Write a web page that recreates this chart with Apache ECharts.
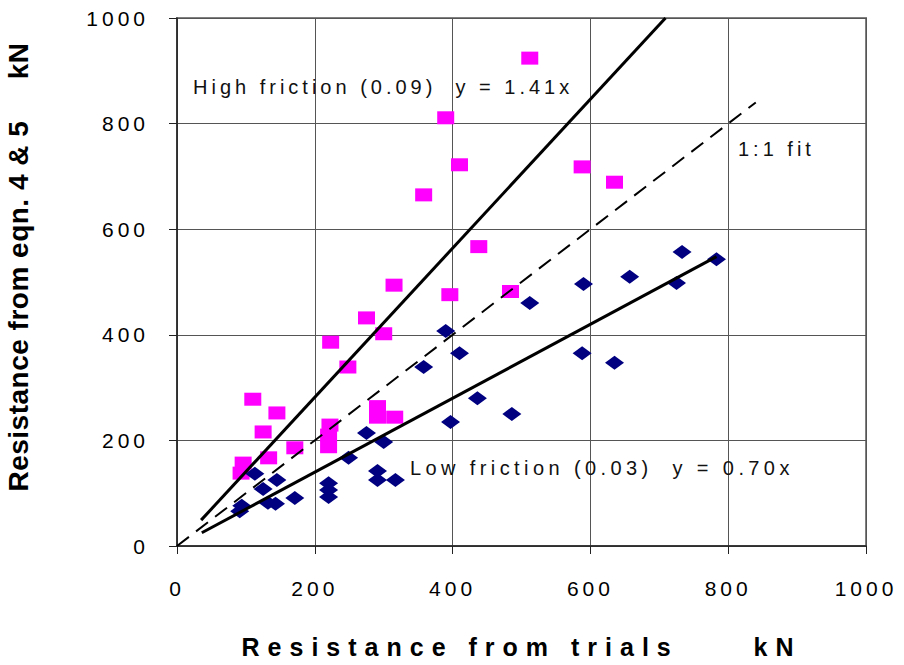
<!DOCTYPE html>
<html>
<head>
<meta charset="utf-8">
<script src="https://cdn.jsdelivr.net/npm/echarts@6/dist/echarts.min.js"></script>
<style>
  html, body { margin: 0; padding: 0; background: #fff; }
  #chart { width: 904px; height: 665px; }
  /* the original chart uses wide letter spacing on almost all text */
  #chart text { letter-spacing: 4px; }
</style>
</head>
<body>
<div id="chart"></div>
<script>
// high friction (0.09) points - resistance from trials / from eqn
const highX = [512, 390, 410, 358, 588, 635, 438, 315, 396, 484, 275, 300, 223, 248,
  110, 145, 125, 171, 133, 96, 93, 222, 220, 220, 291, 291, 316]
const highY = [924, 811, 722, 665, 718, 689, 567, 494, 476, 482, 432, 402, 386, 339,
  278, 252, 216, 186, 167, 157, 138, 229, 210, 188, 264, 244, 244]

// low friction (0.03) points
const lowX = [733, 783, 657, 590, 725, 512, 390, 410, 358, 588, 635, 436, 486, 397, 275,
  300, 249, 291, 291, 317, 113, 145, 125, 132, 143, 171, 94, 91, 220, 220, 220]
const lowY = [557, 543, 510, 496, 498, 460, 407, 365, 339, 365, 347, 280, 250, 235, 214,
  197, 167, 142, 125, 125, 137, 125, 108, 82, 80, 91, 76, 66, 119, 106, 93]

// fitted lines (end points)
const highFit = [[35, 49], [709, 1000]]
const lowFit = [[36, 25], [783, 548]]
const oneToOne = [[0, 0], [840, 840]]

const axisTicks = [0, 200, 400, 600, 800, 1000]

const font = "'Liberation Sans', Arial, sans-serif"

const zip = (xs, ys) => xs.map((x, i) => [x, ys[i]])

const chartDom = document.getElementById('chart')
const chart = echarts.init(chartDom, null, { renderer: 'svg' })

const option = {
  animation: false,
  backgroundColor: '#fff',
  grid: {
    left: 177, right: 38, top: 18, bottom: 119,
    containLabel: false, outerBoundsMode: 'none',
    show: true, borderColor: '#808080', borderWidth: 2
  },
  xAxis: {
    type: 'value',
    min: axisTicks[0],
    max: axisTicks[axisTicks.length - 1],
    interval: 200,
    name: 'Resistance from trials     kN',
    nameLocation: 'middle',
    nameGap: 88,
    nameTextStyle: { fontFamily: font, fontSize: 25, fontWeight: 'bold', color: '#000' },
    axisLine: { show: true, onZero: false, lineStyle: { color: '#222', width: 1.5 } },
    axisTick: { show: true, length: 8, lineStyle: { color: '#222' } },
    axisLabel: { fontFamily: font, fontSize: 21, color: '#000', margin: 32, formatter: v => String(v) },
    splitLine: { show: true, lineStyle: { color: '#555', width: 1 } }
  },
  yAxis: {
    type: 'value',
    min: axisTicks[0],
    max: axisTicks[axisTicks.length - 1],
    interval: 200,
    name: 'Resistance from eqn. 4 & 5     kN',
    nameLocation: 'middle',
    nameGap: 145,
    nameTextStyle: { fontFamily: font, fontSize: 28, fontWeight: 'bold', color: '#000', padding: [0, 0, 0, 30] },
    axisLine: { show: true, onZero: false, lineStyle: { color: '#222', width: 1.5 } },
    axisTick: { show: true, length: 8, lineStyle: { color: '#222' } },
    axisLabel: { fontFamily: font, fontSize: 21, color: '#000', margin: 28, formatter: v => String(v) },
    splitLine: { show: true, lineStyle: { color: '#555', width: 1 } }
  },
  series: [
    {
      name: 'High friction',
      type: 'scatter',
      data: zip(highX, highY),
      symbol: 'rect',
      symbolSize: [17, 13],
      itemStyle: { color: '#ff00ff', opacity: 1 },
      z: 2
    },
    {
      name: 'Low friction',
      type: 'scatter',
      data: zip(lowX, lowY),
      symbol: 'diamond',
      symbolSize: [19, 14],
      itemStyle: { color: '#000080', opacity: 1 },
      z: 2
    },
    {
      name: 'High fit',
      type: 'line',
      data: highFit,
      showSymbol: false,
      lineStyle: { color: '#000', width: 3 },
      z: 3
    },
    {
      name: 'Low fit',
      type: 'line',
      data: lowFit,
      showSymbol: false,
      lineStyle: { color: '#000', width: 3 },
      z: 3
    },
    {
      name: '1:1 fit',
      type: 'line',
      data: oneToOne,
      showSymbol: false,
      lineStyle: { color: '#000', width: 2, type: [15, 9] },
      z: 3
    }
  ],
  graphic: [
    {
      type: 'text', left: 193, top: 77, z: 10,
      style: { text: 'High friction (0.09)  y = 1.41x', fontFamily: font, fontSize: 20, fill: '#111' }
    },
    {
      type: 'text', left: 738, top: 139, z: 10,
      style: { text: '1:1 fit', fontFamily: font, fontSize: 20, fill: '#111' }
    },
    {
      type: 'text', left: 410, top: 458, z: 10,
      style: { text: 'Low friction (0.03)  y = 0.70x', fontFamily: font, fontSize: 20, fill: '#111' }
    }
  ]
}

chart.setOption(option)

// per-text spacing: y title almost none, x title is extra wide
const spaceText = () => {
  chartDom.querySelectorAll('text').forEach(t => {
    const s = t.textContent
    if (s.indexOf('eqn') >= 0) t.style.letterSpacing = '0.5px'
    else if (s.indexOf('trials') >= 0) t.style.letterSpacing = '8px'
    else if (s.indexOf('Low') >= 0) t.style.letterSpacing = '4.4px'
  })
}
chart.on('rendered', spaceText)
chart.on('finished', spaceText)
setTimeout(spaceText, 50)
</script>
</body>
</html>
